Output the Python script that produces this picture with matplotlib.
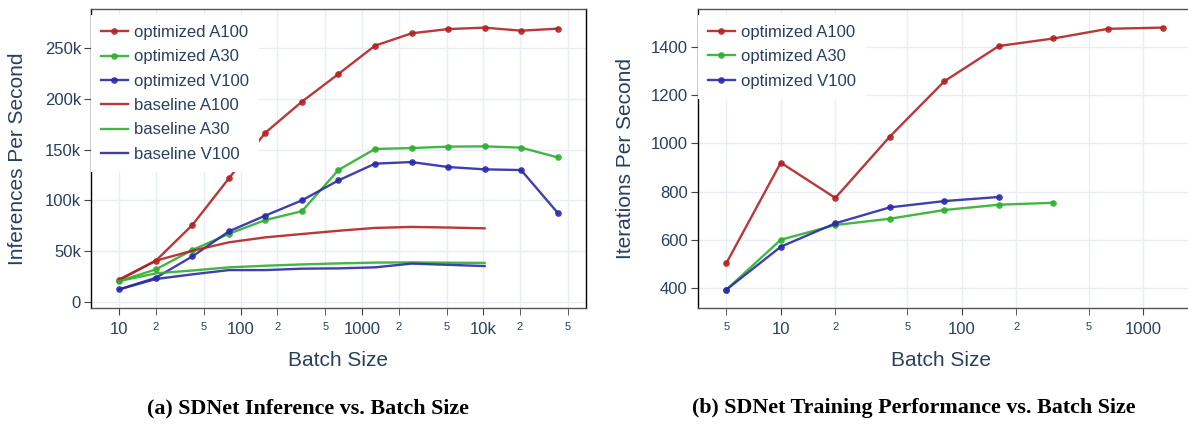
#!/usr/bin/env python3
"""
SDNet: inference and training throughput vs. batch size (two panels).
Saves out.png
"""

import matplotlib.pyplot as plt
from matplotlib.ticker import FuncFormatter

# ---- data -------------------------------------------------------------
infer_batch = [10, 20, 40, 80, 160, 320, 640, 1280, 2560, 5120, 10240, 20480, 40960]
base_batch = infer_batch[:11]

opt_a100 = [21.4e3, 40.5e3, 75.7e3, 121.7e3, 166.8e3, 197.4e3, 224.7e3, 252.6e3,
            264.8e3, 269.0e3, 270.4e3, 267.4e3, 269.4e3]
opt_a30 = [20.4e3, 31.9e3, 51.0e3, 67.0e3, 80.6e3, 89.3e3, 130.0e3, 150.7e3,
           151.6e3, 153.0e3, 153.3e3, 152.0e3, 142.4e3]
opt_v100 = [12.2e3, 23.6e3, 44.7e3, 69.4e3, 85.0e3, 100.0e3, 119.7e3, 136.2e3,
            137.8e3, 132.9e3, 130.6e3, 129.9e3, 87.8e3]
base_a100 = [22.0e3, 40.5e3, 50.3e3, 58.6e3, 63.5e3, 66.8e3, 70.0e3, 72.8e3,
             73.8e3, 73.2e3, 72.4e3]
base_a30 = [20.4e3, 28.0e3, 30.8e3, 33.9e3, 35.5e3, 36.8e3, 37.8e3, 38.6e3,
            38.8e3, 38.5e3, 38.3e3]
base_v100 = [12.2e3, 22.4e3, 27.0e3, 31.2e3, 31.2e3, 32.6e3, 32.9e3, 33.9e3,
             37.6e3, 36.4e3, 35.2e3]

train_batch = [5, 10, 20, 40, 80, 160, 320, 640, 1280]
train_a100 = [503, 920, 774, 1028, 1257, 1403, 1434, 1474, 1479]
train_a30 = [394, 601, 662, 688, 724, 746, 754]
train_v100 = [394, 572, 669, 735, 761, 778]

# ---- style ------------------------------------------------------------
RED = "#b22222"
GREEN = "#2fae2f"
BLUE = "#2a2aa8"
TXT = "#2a3f5f"
GRID = "#e9edf6"

plt.rcParams["font.family"] = ["Liberation Sans", "DejaVu Sans"]

W, H = 1188, 424
fig = plt.figure(figsize=(W / 100, H / 100), dpi=100)


def px_axes(x0, x1, y0, y1):
    return fig.add_axes([x0 / W, 1 - y1 / H, (x1 - x0) / W, (y1 - y0) / H])


def style_axes(ax, majors, major_labels, minors, minor_labels):
    ax.set_xscale("log")
    ax.set_xticks(majors, major_labels)
    ax.set_xticks(minors, minor_labels, minor=True)
    ax.tick_params(axis="x", which="major", labelsize=12, colors="#444",
                   labelcolor=TXT, length=5, pad=5)
    ax.tick_params(axis="x", which="minor", labelsize=8, colors="#444",
                   labelcolor=TXT, length=5, pad=5)
    ax.tick_params(axis="y", labelsize=12, colors="#444", labelcolor=TXT,
                   length=5, pad=2)
    ax.grid(True, which="both", color=GRID, linewidth=1.0)
    ax.set_axisbelow(True)
    for side in ["top", "bottom"]:
        ax.spines[side].set_color("#555")
    for side in ["left", "right"]:
        ax.spines[side].set_color("black")
    for sp in ax.spines.values():
        sp.set_linewidth(1.0)


def opt_line(ax, x, y, color, label):
    ax.plot(x, y, color=color, lw=1.7, marker="o", ms=4.8, label=label, alpha=0.9,
            markeredgewidth=0)


def legend(ax):
    leg = ax.legend(loc="upper left", fontsize=12, frameon=True, framealpha=1,
                    edgecolor="none", fancybox=False, borderaxespad=0,
                    bbox_to_anchor=(0, 1 - 6 / 299),
                    borderpad=0.6, handlelength=1.65, handletextpad=0.35,
                    labelspacing=0.56)
    for t in leg.get_texts():
        t.set_color(TXT)
    leg.set_zorder(5)


# ---- (a) inference ----------------------------------------------------
ax1 = px_axes(90.7, 586.3, 9, 308)
opt_line(ax1, infer_batch, opt_a100, RED, "optimized A100")
opt_line(ax1, infer_batch, opt_a30, GREEN, "optimized A30")
opt_line(ax1, infer_batch, opt_v100, BLUE, "optimized V100")
ax1.plot(base_batch, base_a100, color=RED, lw=1.7, alpha=0.9, label="baseline A100")
ax1.plot(base_batch, base_a30, color=GREEN, lw=1.7, alpha=0.9, label="baseline A30")
ax1.plot(base_batch, base_v100, color=BLUE, lw=1.7, alpha=0.9, label="baseline V100")

style_axes(ax1, [10, 100, 1000, 10000], ["10", "100", "1000", "10k"],
           [20, 50, 200, 500, 2000, 5000, 20000, 50000],
           ["2", "5", "2", "5", "2", "5", "2", "5"])
ax1.set_xlim(5.81, 70600)
ax1.set_ylim(-6.2e3, 288.8e3)
ax1.set_yticks([0, 50e3, 100e3, 150e3, 200e3, 250e3])
ax1.yaxis.set_major_formatter(FuncFormatter(lambda v, p: "0" if v == 0 else f"{v / 1000:.0f}k"))
ax1.set_xlabel("Batch Size", fontsize=15, color=TXT, va="center")
ax1.xaxis.set_label_coords(0.499, -0.177)
ax1.set_ylabel("Inferences Per Second", fontsize=15, color=TXT, va="center")
ax1.yaxis.set_label_coords(-0.1467, 0.5)
legend(ax1)

# ---- (b) training -----------------------------------------------------
ax2 = px_axes(697.5, 1192, 9, 308)
opt_line(ax2, train_batch, train_a100, RED, "optimized A100")
opt_line(ax2, train_batch[:len(train_a30)], train_a30, GREEN, "optimized A30")
opt_line(ax2, train_batch[:len(train_v100)], train_v100, BLUE, "optimized V100")

style_axes(ax2, [10, 100, 1000], ["10", "100", "1000"],
           [5, 20, 50, 200, 500],
           ["5", "2", "5", "2", "5"])
ax2.set_xlim(3.47, 1862)
ax2.set_ylim(318.5, 1556)
ax2.set_yticks([400, 600, 800, 1000, 1200, 1400])
ax2.set_xlabel("Batch Size", fontsize=15, color=TXT, va="center")
ax2.xaxis.set_label_coords(0.492, -0.177)
ax2.set_ylabel("Iterations Per Second", fontsize=15, color=TXT, va="center")
ax2.yaxis.set_label_coords(-0.146, 0.5)
legend(ax2)

# ---- captions ---------------------------------------------------------
cap = dict(fontsize=15.8, fontweight="bold", family=["Liberation Serif", "DejaVu Serif"],
           ha="center", va="center", color="black")
fig.text(308 / W, 1 - 408 / H, "(a) SDNet Inference vs. Batch Size", **cap)
fig.text(913.5 / W, 1 - 408 / H, "(b) SDNet Training Performance vs. Batch Size", **cap)

fig.savefig("out.png", dpi=100)
plt.close(fig)
